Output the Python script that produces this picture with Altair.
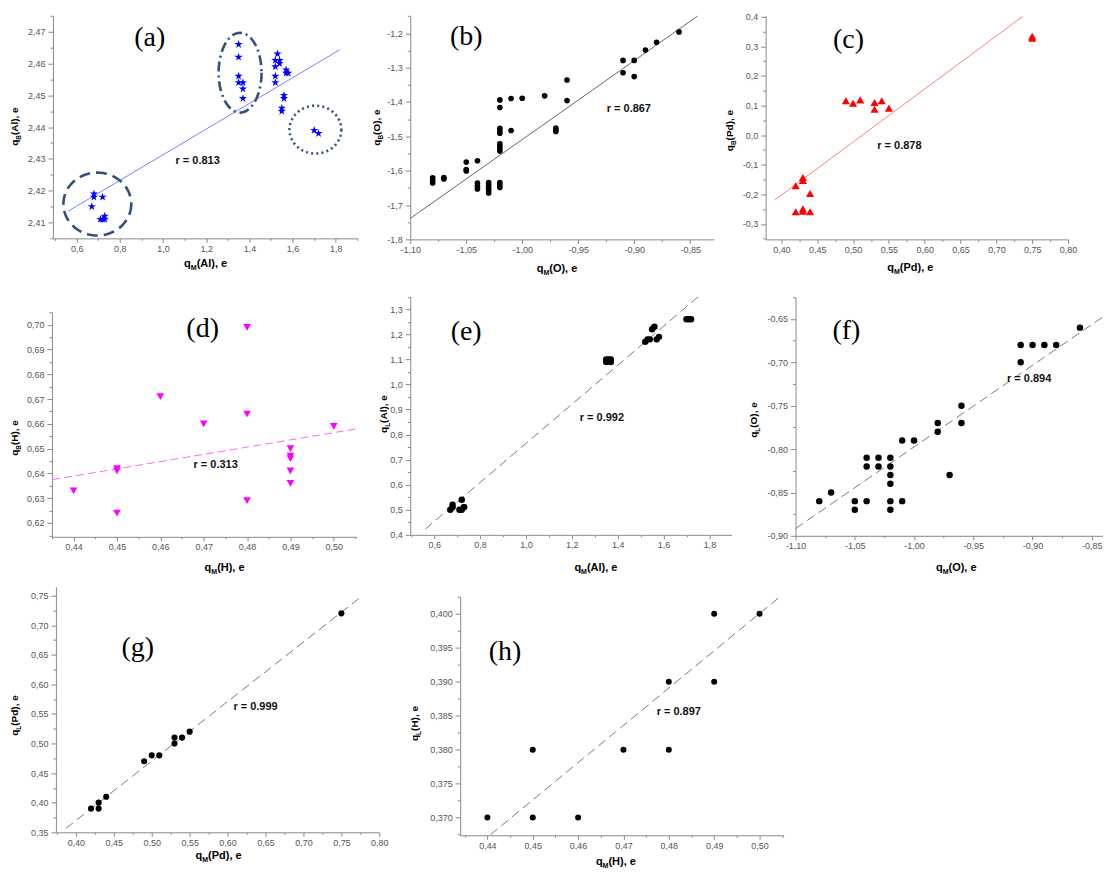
import math
import altair as alt
import pandas as pd

# ------------------------------------------------------------------ data
# (a) q_M(Al) vs q_B(Al)
a_x = [0.67, 0.68, 0.68, 0.72, 0.71, 0.72, 0.73, 0.73,
       1.35, 1.35, 1.35, 1.35, 1.37, 1.37, 1.37,
       1.53, 1.52, 1.54, 1.52, 1.54, 1.52, 1.52, 1.57, 1.57, 1.58, 1.56, 1.56, 1.55, 1.55,
       1.70, 1.72]
a_y = [2.415, 2.419, 2.418, 2.418, 2.411, 2.411, 2.412, 2.411,
       2.466, 2.462, 2.456, 2.454, 2.454, 2.452, 2.449,
       2.463, 2.461, 2.461, 2.459, 2.460, 2.456, 2.454, 2.458, 2.457, 2.457, 2.450, 2.449, 2.446, 2.445,
       2.439, 2.438]
a_fit_x = [0.5615, 1.818]
a_fit_y = [2.4136, 2.4643]
a_ell_x = [0.6957, 1.3568, 1.7058]
a_ell_y = [2.4158, 2.4571, 2.4392]

# (b) q_M(O) vs q_B(O)
b_x = [-1.08, -1.08, -1.08, -1.07, -1.07, -1.05, -1.05, -1.05,
       -1.04, -1.04, -1.04, -1.04, -1.03, -1.03, -1.03, -1.03, -1.03,
       -1.02, -1.02, -1.02, -1.02, -1.02, -1.02, -1.02, -1.02, -1.02, -1.02, -1.02, -1.02,
       -1.01, -1.01, -1.00, -0.98, -0.97, -0.97, -0.97, -0.96, -0.96,
       -0.91, -0.91, -0.90, -0.90, -0.89, -0.88, -0.86]
b_y = [-1.621, -1.629, -1.636, -1.620, -1.624, -1.575, -1.597, -1.601,
       -1.571, -1.636, -1.645, -1.653, -1.635, -1.643, -1.651, -1.658, -1.665,
       -1.394, -1.416, -1.477, -1.484, -1.491, -1.522, -1.529, -1.536, -1.543, -1.635, -1.642, -1.649,
       -1.390, -1.483, -1.389, -1.382, -1.476, -1.481, -1.486, -1.336, -1.396,
       -1.279, -1.315, -1.279, -1.326, -1.249, -1.226, -1.196]
b_fit_x = [-1.10, -0.8435]
b_fit_y = [-1.739, -1.150]

# (c) q_M(Pd) vs q_B(Pd)
c_x = [0.42, 0.43, 0.43, 0.44, 0.42, 0.43, 0.43, 0.44,
       0.49, 0.50, 0.51, 0.53, 0.53, 0.54, 0.55, 0.75, 0.75]
c_y = [-0.171, -0.143, -0.153, -0.197, -0.259, -0.249, -0.257, -0.259,
       0.116, 0.108, 0.119, 0.110, 0.087, 0.116, 0.091, 0.334, 0.327]
c_fit_x = [0.3908, 0.7366]
c_fit_y = [-0.219, 0.4006]

# (d) q_M(H) vs q_B(H)
d_x = [0.44, 0.45, 0.45, 0.45, 0.46, 0.47, 0.48, 0.48, 0.48,
       0.49, 0.49, 0.49, 0.49, 0.49, 0.50]
d_y = [0.633, 0.642, 0.641, 0.624, 0.671, 0.660, 0.699, 0.664, 0.629,
       0.650, 0.647, 0.646, 0.641, 0.636, 0.659]
d_fit_x = [0.4351, 0.5052]
d_fit_y = [0.6375, 0.6580]

# (e) q_M(Al) vs q_L(Al)
e_x = [0.67, 0.68, 0.68, 0.72, 0.71, 0.72, 0.73, 0.73,
       1.35, 1.35, 1.36, 1.37, 1.37, 1.52, 1.53, 1.54, 1.55, 1.56, 1.57, 1.58,
       1.70, 1.71, 1.72]
e_y = [0.50, 0.51, 0.52, 0.54, 0.50, 0.50, 0.51, 0.51,
       1.09, 1.10, 1.10, 1.09, 1.10, 1.17, 1.18, 1.18, 1.22, 1.23, 1.18, 1.19,
       1.26, 1.26, 1.26]
e_fit_x = [0.561, 1.7535]
e_fit_y = [0.4226, 1.352]

# (f) q_M(O) vs q_L(O)
f_x = [-1.08, -1.07, -1.05, -1.05, -1.04, -1.04, -1.04, -1.03, -1.03,
       -1.02, -1.02, -1.02, -1.02, -1.02, -1.02, -1.01, -1.01, -1.00,
       -0.98, -0.98, -0.97, -0.96, -0.96, -0.91, -0.91, -0.90, -0.89, -0.88, -0.86]
f_y = [-0.86, -0.85, -0.86, -0.87, -0.81, -0.82, -0.86, -0.81, -0.82,
       -0.81, -0.82, -0.83, -0.84, -0.86, -0.87, -0.79, -0.86, -0.79,
       -0.77, -0.78, -0.83, -0.75, -0.77, -0.68, -0.70, -0.68, -0.68, -0.68, -0.66]
f_fit_x = [-1.10, -0.841]
f_fit_y = [-0.8916, -0.648]

# (g) q_M(Pd) vs q_L(Pd)
g_x = [0.42, 0.43, 0.43, 0.44, 0.49, 0.50, 0.51, 0.53, 0.53, 0.54, 0.55, 0.75]
g_y = [0.39, 0.40, 0.39, 0.41, 0.47, 0.48, 0.48, 0.51, 0.50, 0.51, 0.52, 0.72]
g_fit_x = [0.387, 0.778]
g_fit_y = [0.3567, 0.75]

# (h) q_M(H) vs q_L(H)
h_x = [0.44, 0.45, 0.45, 0.46, 0.47, 0.48, 0.48, 0.49, 0.49, 0.50]
h_y = [0.370, 0.380, 0.370, 0.370, 0.380, 0.390, 0.380, 0.400, 0.390, 0.400]
h_fit_x = [0.4407, 0.5045]
h_fit_y = [0.3675, 0.4025]

# tick labels (major ticks)
a_xt = [0.6, 0.8, 1.0, 1.2, 1.4, 1.6, 1.8]
a_yt = [2.41, 2.42, 2.43, 2.44, 2.45, 2.46, 2.47]
b_xt = [-1.10, -1.05, -1.00, -0.95, -0.90, -0.85]
b_yt = [-1.8, -1.7, -1.6, -1.5, -1.4, -1.3, -1.2]
c_xt = [0.40, 0.45, 0.50, 0.55, 0.60, 0.65, 0.70, 0.75, 0.80]
c_yt = [-0.3, -0.2, -0.1, 0.0, 0.1, 0.2, 0.3, 0.4]
d_xt = [0.44, 0.45, 0.46, 0.47, 0.48, 0.49, 0.50]
d_yt = [0.62, 0.63, 0.64, 0.65, 0.66, 0.67, 0.68, 0.69, 0.70]
e_xt = [0.6, 0.8, 1.0, 1.2, 1.4, 1.6, 1.8]
e_yt = [0.4, 0.5, 0.6, 0.7, 0.8, 0.9, 1.0, 1.1, 1.2, 1.3]
f_xt = [-1.10, -1.05, -1.00, -0.95, -0.90, -0.85]
f_yt = [-0.90, -0.85, -0.80, -0.75, -0.70, -0.65]
g_xt = [0.40, 0.45, 0.50, 0.55, 0.60, 0.65, 0.70, 0.75, 0.80]
g_yt = [0.35, 0.40, 0.45, 0.50, 0.55, 0.60, 0.65, 0.70, 0.75]
h_xt = [0.44, 0.45, 0.46, 0.47, 0.48, 0.49, 0.50]
h_yt = [0.370, 0.375, 0.380, 0.385, 0.390, 0.395, 0.400]

r_texts = ["r = 0.813", "r = 0.867", "r = 0.878", "r = 0.313",
           "r = 0.992", "r = 0.894", "r = 0.999", "r = 0.897"]
panel_names = ["(a)", "(b)", "(c)", "(d)", "(e)", "(f)", "(g)", "(h)"]
x_titles = [("M", "(Al), e"), ("M", "(O), e"), ("M", "(Pd), e"), ("M", "(H), e"),
            ("M", "(Al), e"), ("M", "(O), e"), ("M", "(Pd), e"), ("M", "(H), e")]
y_titles = [("B", "(Al), e"), ("B", "(O), e"), ("B", "(Pd), e"), ("B", "(H), e"),
            ("L", "(Al), e"), ("L", "(O), e"), ("L", "(Pd), e"), ("L", "(H), e")]

# ------------------------------------------------------------------ layout
W, H = 1097, 866
M = 8  # page margin: screen px = chart px + M

# plot rectangles in screen pixels: (left, right, top, bottom)
RECT = {
    "a": (53, 358, 15, 238), "b": (411, 715, 15, 239), "c": (767, 1070, 15, 239),
    "d": (52, 357, 312, 537), "e": (411, 733, 296, 535), "f": (797, 1108, 297, 536),
    "g": (56, 380, 587, 833), "h": (461, 785, 597, 836),
}
r_pos = [(198, 160), (630, 108), (901, 145), (216, 465), (603, 418), (1031, 379), (256, 707), (680, 713)]
lab_pos = [(150, 37), (467, 36), (850, 39), (203, 329), (467, 332), (848, 331), (138, 648), (506, 652)]
xt_pos = [(206, 263), (558, 268), (912, 267), (225, 567), (597, 567), (958, 567), (219, 856), (617, 862)]
yt_pos = [(15, 126), (377, 127), (731, 130), (15, 438), (384, 414), (755, 420), (15, 716), (415, 724)]

AX = dict(grid=False, domainColor="#8a8a8a", tickColor="#8a8a8a", labelColor="#555555",
          labelFont="Liberation Sans", labelFontSize=9, labelFlush=False, labelOverlap=False,
          domainWidth=1, tickWidth=1, title="")


def with_minor(majors, step, lo, hi):
    vals = set(round(v, 6) for v in majors)
    for v in majors:
        vals.add(round(v - step / 2, 6))
    vals.add(round(majors[-1] + step / 2, 6))
    return sorted(v for v in vals if lo - 1e-9 <= v <= hi + 1e-9)


def make_axis(orient, offset, majors, step, dom, dec, big, small, pad):
    minor = step / 2
    test = f"abs(round(datum.value / {minor})) % 2 == 1"
    lab = f"(datum.value < -1e-9 ? '-' : '') + replace(format(abs(datum.value), '.{dec}f'), '.', ',')"
    return alt.Axis(
        orient=orient, offset=offset, values=with_minor(majors, step, dom[0], dom[1]),
        labelExpr=f"{test} ? '' : {lab}",
        tickSize=big,
        tickDash={"condition": {"test": test, "value": [small, 30]}, "value": [big, 0]},
        labelPadding=pad, **AX)


def panel(key, xs, ys, fx, fy, xdom, ydom, xt, xstep, xdec, yt, ystep, ydec, pt, ln, extra=None):
    x0, x1, top, bot = RECT[key]
    xsc = alt.Scale(domain=xdom, range=[x0 - M, x1 - M], zero=False, nice=False)
    ysc = alt.Scale(domain=ydom, range=[bot - M, top - M], zero=False, nice=False)
    xax = make_axis("bottom", (bot - M) - H, xt, xstep, xdom, xdec, 4, 2, 2)
    yax = make_axis("left", -(x0 - M), yt, ystep, ydom, ydec, 5, 3, 3)
    fit = alt.Chart(pd.DataFrame({"x": fx, "y": fy})).mark_line(**ln).encode(
        x=alt.X("x:Q", scale=xsc, axis=None), y=alt.Y("y:Q", scale=ysc, axis=None))
    pts = alt.Chart(pd.DataFrame({"x": xs, "y": ys})).mark_point(opacity=1, **pt).encode(
        x=alt.X("x:Q", scale=xsc, axis=xax), y=alt.Y("y:Q", scale=ysc, axis=yax))
    units = [fit, pts]
    if extra:
        units += extra(xsc, ysc)
    return units


STAR = ("M0,-1L0.2245,-0.309L0.9511,-0.309L0.3633,0.118L0.5878,0.809L0,0.382"
        "L-0.5878,0.809L-0.3633,0.118L-0.9511,-0.309L-0.2245,-0.309Z")


def ellipse_path(rx, ry, n=72):
    pts = [f"{rx * math.cos(2 * math.pi * i / n):.4f},{ry * math.sin(2 * math.pi * i / n):.4f}"
           for i in range(n)]
    return "M" + "L".join(pts) + "Z"


ELL = [  # (rx, ry, diameter px, dash)
    (1.0, 63 / 68, 68, [11, 6]),
    (43 / 80, 1.0, 80, [10, 4, 2, 4]),
    (1.0, 48 / 52, 52, [2, 3.2]),
]


def a_extra(xsc, ysc):
    out = []
    for i, (rx, ry, dia, dash) in enumerate(ELL):
        out.append(
            alt.Chart(pd.DataFrame({"x": [a_ell_x[i]], "y": [a_ell_y[i]]}))
            .mark_point(shape=ellipse_path(rx, ry), size=dia * dia, filled=False,
                        color="#33507a", strokeWidth=2.6, strokeDash=dash, opacity=1)
            .encode(x=alt.X("x:Q", scale=xsc, axis=None), y=alt.Y("y:Q", scale=ysc, axis=None)))
    return out


dot = dict(shape="circle", filled=True, color="black")
dash_ln = dict(color="#7a7a7a", strokeWidth=1, strokeDash=[9, 5])

units = []
units += panel("a", a_x, a_y, a_fit_x, a_fit_y, [0.49, 1.9], [2.405, 2.475], a_xt, 0.2, 1, a_yt, 0.01, 2,
               dict(shape=STAR, size=75, filled=True, color="#0000ff"),
               dict(color="#8080ff", strokeWidth=1), a_extra)
units += panel("b", b_x, b_y, b_fit_x, b_fit_y, [-1.10, -0.829], [-1.8, -1.149], b_xt, 0.05, 2, b_yt, 0.1, 1,
               dict(size=32, **dot), dict(color="#404040", strokeWidth=0.8))
units += panel("c", c_x, c_y, c_fit_x, c_fit_y, [0.378, 0.80], [-0.352, 0.403], c_xt, 0.05, 2, c_yt, 0.1, 1,
               dict(shape="triangle-up", size=66, filled=True, color="#ff0000"),
               dict(color="#ff7f7f", strokeWidth=1))
units += panel("d", d_x, d_y, d_fit_x, d_fit_y, [0.435, 0.5052], [0.6144, 0.7051], d_xt, 0.01, 2, d_yt, 0.01, 2,
               dict(shape="triangle-down", size=60, filled=True, color="#ff00ff"),
               dict(color="#ff66ff", strokeWidth=1, strokeDash=[8, 4]))
units += panel("e", e_x, e_y, e_fit_x, e_fit_y, [0.4955, 1.897], [0.4, 1.352], e_xt, 0.2, 1, e_yt, 0.1, 1,
               dict(size=42, **dot), dash_ln)
units += panel("f", f_x, f_y, f_fit_x, f_fit_y, [-1.10, -0.838], [-0.90, -0.625], f_xt, 0.05, 2, f_yt, 0.05, 2,
               dict(size=42, **dot), dash_ln)
units += panel("g", g_x, g_y, g_fit_x, g_fit_y, [0.3737, 0.80], [0.35, 0.765], g_xt, 0.05, 2, g_yt, 0.05, 2,
               dict(size=38, **dot), dash_ln)
units += panel("h", h_x, h_y, h_fit_x, h_fit_y, [0.434, 0.5053], [0.3674, 0.4025], h_xt, 0.01, 2, h_yt, 0.005, 3,
               dict(size=36, **dot), dash_ln)

# ------------------------------------------------------------------ texts
CW = {"q": .611, "(": .333, ")": .333, "A": .722, "l": .278, "O": .778, "P": .667, "d": .611,
      "H": .722, ",": .278, " ": .278, "e": .556, "M": .833, "B": .722, "L": .611}


def tw(s, fs):
    return sum(CW.get(c, 0.6) for c in s) * fs


title_rows = []


def add_title(sub, rest, cx, cy, rotated, fs, fs_sub):
    wq, ws, wr = tw("q", fs), tw(sub, fs_sub), tw(rest, fs)
    total = wq + ws + wr
    for text, off, size, shift in [("q", 0, fs, 0), (sub, wq, fs_sub, 3), (rest, wq + ws, fs, 0)]:
        if rotated:
            x, y, ang = cx + 0.35 * fs + shift, cy + total / 2 - off, 270
        else:
            x, y, ang = cx - total / 2 + off, cy + 0.35 * fs + shift, 0
        title_rows.append(dict(px=x - M, py=y - M, t=text, ang=ang, fs=size))


for i in range(8):
    add_title(x_titles[i][0], x_titles[i][1], xt_pos[i][0], xt_pos[i][1], False, 11, 7)
    add_title(y_titles[i][0], y_titles[i][1], yt_pos[i][0], yt_pos[i][1], True, 10, 6.5)

titles = alt.Chart(pd.DataFrame(title_rows)).mark_text(
    align="left", baseline="alphabetic", font="Liberation Sans", fontWeight="bold", color="black"
).encode(
    x=alt.X("px:Q", scale=None, axis=None), y=alt.Y("py:Q", scale=None, axis=None),
    text=alt.Text("t:N"), angle=alt.Angle("ang:Q", scale=None),
    size=alt.Size("fs:Q", scale=None, legend=None))

rdf = pd.DataFrame({"px": [p[0] - M for p in r_pos], "py": [p[1] - M for p in r_pos], "t": r_texts})
rlab = alt.Chart(rdf).mark_text(
    align="center", baseline="middle", font="Liberation Sans", fontWeight="bold", fontSize=11, color="#111111"
).encode(x=alt.X("px:Q", scale=None, axis=None), y=alt.Y("py:Q", scale=None, axis=None), text="t:N")

ldf = pd.DataFrame({"px": [p[0] - M for p in lab_pos], "py": [p[1] - M for p in lab_pos], "t": panel_names})
plab = alt.Chart(ldf).mark_text(
    align="center", baseline="middle", font="Liberation Serif", fontSize=28, color="black"
).encode(x=alt.X("px:Q", scale=None, axis=None), y=alt.Y("py:Q", scale=None, axis=None), text="t:N")

chart = (
    alt.layer(*units, titles, rlab, plab)
    .resolve_scale(x="independent", y="independent")
    .resolve_axis(x="independent", y="independent")
    .properties(width=W, height=H, autosize=alt.AutoSizeParams(type="none"), padding=0,
                background="white")
    .configure_view(strokeOpacity=0)
)

chart.save("out.html", embed_options={"renderer": "svg", "actions": False})
